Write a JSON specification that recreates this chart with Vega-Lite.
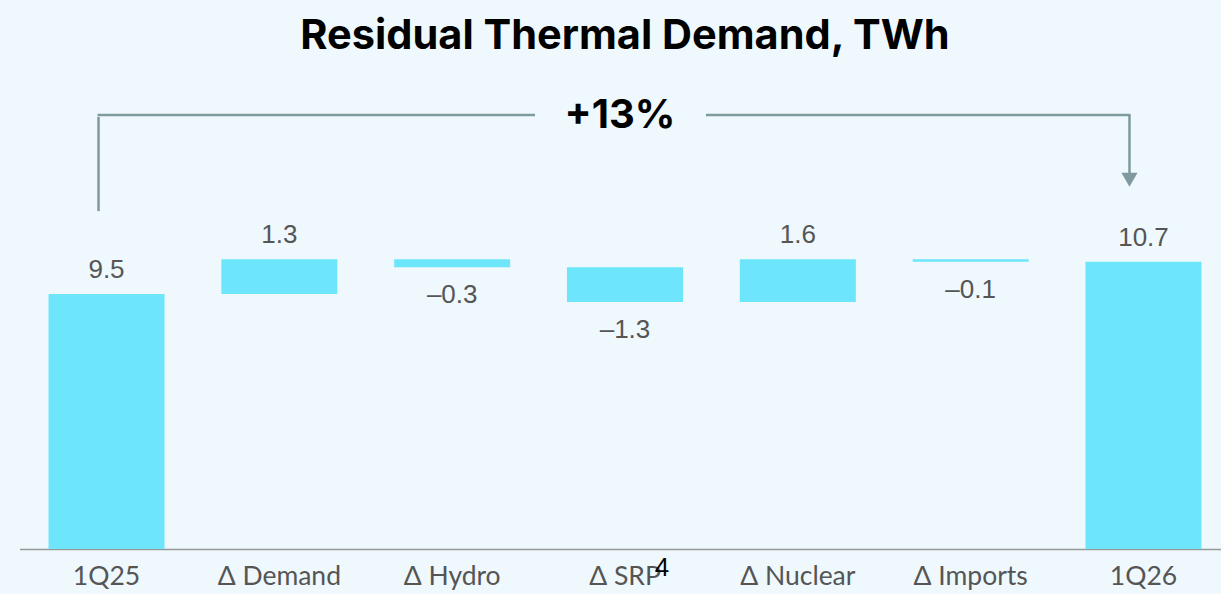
{
  "$schema": "https://vega.github.io/schema/vega-lite/v6.json",
  "width": 1221,
  "height": 549,
  "padding": {"left": 0, "top": 0, "right": 0, "bottom": 45},
  "autosize": "none",
  "background": "#EEF8FD",
  "config": {"view": {"stroke": null}, "font": "Lato"},
  "datasets": {
    "bars": [
      {"cat": "1Q25", "lo": 0, "hi": 9.5, "label": "9.5", "sign": "up"},
      {"cat": "Δ Demand", "lo": 9.5, "hi": 10.8, "label": "1.3", "sign": "up"},
      {"cat": "Δ Hydro", "lo": 10.5, "hi": 10.8, "label": "–0.3", "sign": "down"},
      {"cat": "Δ SRP", "lo": 9.2, "hi": 10.5, "label": "–1.3", "sign": "down"},
      {"cat": "Δ Nuclear", "lo": 9.2, "hi": 10.8, "label": "1.6", "sign": "up"},
      {"cat": "Δ Imports", "lo": 10.7, "hi": 10.8, "label": "–0.1", "sign": "down"},
      {"cat": "1Q26", "lo": 0, "hi": 10.7, "label": "10.7", "sign": "up"}
    ]
  },
  "data": {"name": "bars"},
  "layer": [
    {
      "mark": {"type": "bar", "color": "#6DE5FB"},
      "encoding": {
        "x": {
          "field": "cat", "type": "nominal", "sort": null,
          "scale": {"range": [19.5, 1230.5], "paddingInner": 0.329, "paddingOuter": 0.168},
          "axis": {"title": null, "labelAngle": 0, "ticks": false, "domainColor": "#999999", "domainWidth": 1.5, "labelFontSize": 26.5, "labelColor": "#555555", "labelPadding": 14, "labelFont": "Lato"}
        },
        "y": {"field": "lo", "type": "quantitative", "scale": {"domain": [0, 20.455], "nice": false, "zero": false}, "axis": null},
        "y2": {"field": "hi"}
      }
    },
    {
      "transform": [{"filter": "datum.sign == 'up'"}],
      "mark": {"type": "text", "baseline": "alphabetic", "dy": -16, "fontSize": 26, "color": "#555555", "font": "Liberation Sans"},
      "encoding": {
        "x": {"field": "cat", "type": "nominal", "sort": null},
        "y": {"field": "hi", "type": "quantitative"},
        "text": {"field": "label"}
      }
    },
    {
      "transform": [{"filter": "datum.sign == 'down'"}],
      "mark": {"type": "text", "baseline": "alphabetic", "dy": 36, "fontSize": 26, "color": "#555555", "font": "Liberation Sans"},
      "encoding": {
        "x": {"field": "cat", "type": "nominal", "sort": null},
        "y": {"field": "lo", "type": "quantitative"},
        "text": {"field": "label"}
      }
    },
    {
      "data": {"values": [{"cat": "Δ SRP", "note": "4", "v": 0}]},
      "mark": {"type": "text", "baseline": "alphabetic", "dx": 37, "dy": 27, "fontSize": 26, "color": "#000000", "font": "Liberation Sans"},
      "encoding": {
        "x": {"field": "cat", "type": "nominal", "sort": null},
        "y": {"field": "v", "type": "quantitative"},
        "text": {"field": "note"}
      }
    },
    {
      "data": {"values": [{"cat": "Δ SRP", "t": "Residual Thermal Demand, TWh", "v": 18.63}]},
      "mark": {"type": "text", "baseline": "alphabetic", "fontSize": 41.5, "fontWeight": "bold", "color": "#000000", "font": "Inter"},
      "encoding": {
        "x": {"field": "cat", "type": "nominal", "sort": null},
        "y": {"field": "v", "type": "quantitative"},
        "text": {"field": "t"}
      }
    },
    {
      "data": {"values": [{"cat": "Δ SRP", "t": "+13%", "v": 15.7}]},
      "mark": {"type": "text", "baseline": "alphabetic", "dx": -5, "fontSize": 40, "fontWeight": "bold", "color": "#000000", "font": "Inter"},
      "encoding": {
        "x": {"field": "cat", "type": "nominal", "sort": null},
        "y": {"field": "v", "type": "quantitative"},
        "text": {"field": "t"}
      }
    },
    {
      "data": {"values": [{"a": "1Q25", "b": "Δ SRP", "v": 16.17}]},
      "mark": {"type": "rule", "color": "#7F9A9E", "strokeWidth": 2.5, "xOffset": -9, "x2Offset": -90},
      "encoding": {
        "x": {"field": "a", "type": "nominal", "sort": null},
        "x2": {"field": "b"},
        "y": {"field": "v", "type": "quantitative"}
      }
    },
    {
      "data": {"values": [{"a": "Δ SRP", "b": "1Q26", "v": 16.17}]},
      "mark": {"type": "rule", "color": "#7F9A9E", "strokeWidth": 2.5, "xOffset": 81, "x2Offset": -13},
      "encoding": {
        "x": {"field": "a", "type": "nominal", "sort": null},
        "x2": {"field": "b"},
        "y": {"field": "v", "type": "quantitative"}
      }
    },
    {
      "data": {"values": [{"a": "1Q25", "top": 16.1, "bot": 12.59}]},
      "mark": {"type": "rule", "color": "#7F9A9E", "strokeWidth": 2.5, "xOffset": -8},
      "encoding": {
        "x": {"field": "a", "type": "nominal", "sort": null},
        "y": {"field": "top", "type": "quantitative"},
        "y2": {"field": "bot"}
      }
    },
    {
      "data": {"values": [{"a": "1Q26", "top": 16.17, "bot": 14.0}]},
      "mark": {"type": "rule", "color": "#7F9A9E", "strokeWidth": 2.5, "xOffset": -14},
      "encoding": {
        "x": {"field": "a", "type": "nominal", "sort": null},
        "y": {"field": "top", "type": "quantitative"},
        "y2": {"field": "bot"}
      }
    },
    {
      "data": {"values": [{"a": "1Q26", "v": 13.76}]},
      "mark": {"type": "point", "shape": "triangle-down", "filled": true, "color": "#7F9A9E", "opacity": 1, "size": 260, "xOffset": -14},
      "encoding": {
        "x": {"field": "a", "type": "nominal", "sort": null},
        "y": {"field": "v", "type": "quantitative"}
      }
    }
  ]
}
